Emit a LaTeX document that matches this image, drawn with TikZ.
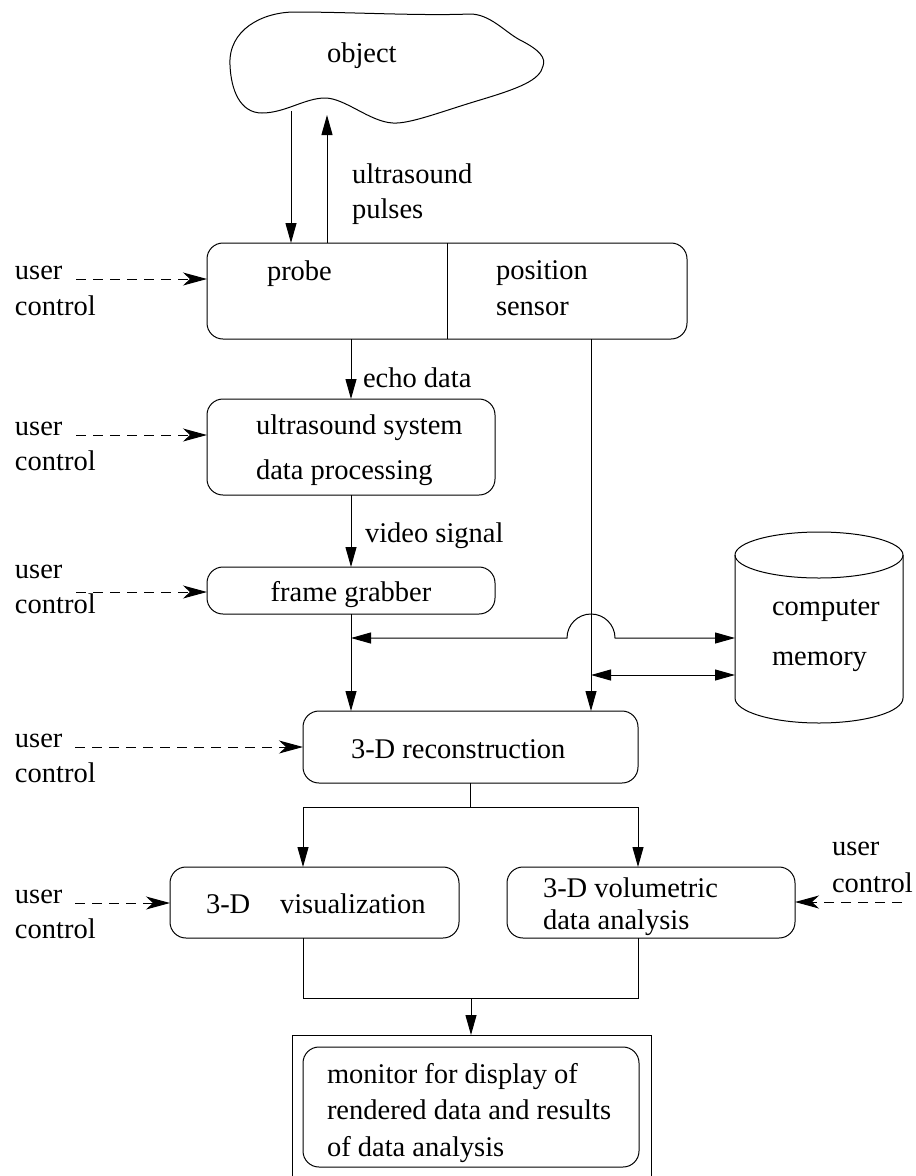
\documentclass[tikz,border=0pt]{standalone}
\usepackage{fontspec}
\setmainfont{Liberation Serif}
\usetikzlibrary{arrows.meta,calc}
\begin{document}
\begin{tikzpicture}[x=1pt,y=-1pt, line width=1pt,
  font=\fontsize{28.5}{34}\selectfont,
  lbl/.style={inner sep=0pt, outer sep=0pt, anchor=base west},
  rbox/.style={draw, rounded corners=16pt, inner sep=0pt, outer sep=0pt},
  arr/.style={-{Triangle[length=20pt,width=11pt]}},
  dblarr/.style={{Triangle[length=20pt,width=11pt]}-{Triangle[length=20pt,width=11pt]}},
  darr/.style={dash pattern=on 10pt off 7pt, -{Stealth[length=24pt,width=13pt,inset=7pt]}}]
\useasboundingbox (0,0) rectangle (916,1176);

% object blob
\draw (230,65) .. controls (228,30) and (262,12) .. (295,12)
  .. controls (350,12) and (420,16) .. (470,14)
  .. controls (490,14) and (505,32) .. (520,40)
  .. controls (540,50) and (546,58) .. (543,66)
  .. controls (540,80) and (520,88) .. (480,100)
  .. controls (440,112) and (410,124) .. (393,123)
  .. controls (370,122) and (345,98) .. (325,98)
  .. controls (305,98) and (285,113) .. (262,113)
  .. controls (240,113) and (231,90) .. (230,65) -- cycle;
\node[lbl] (objtxt) at (327,62) {object};
\node[lbl] (pulse1) at (352,183) {ultrasound};
\node[lbl] (pulse2) at (352,218) {pulses};

% probe / position sensor
\node[rbox, minimum width=480pt, minimum height=96pt] (probe) at (447,291) {};
\draw (probe.north) -- (probe.south);
\node[lbl] (probetxt) at (267,280) {probe};
\node[lbl] (postxt1) at (496,279) {position};
\node[lbl] (postxt2) at (496,315) {sensor};

% ultrasound system
\node[rbox, minimum width=288pt, minimum height=96pt] (us) at (351,447) {};
\node[lbl] (ustxt1) at (256,434) {ultrasound system};
\node[lbl] (ustxt2) at (256,479) {data processing};

% frame grabber
\node[rbox, minimum width=288pt, minimum height=47pt] (fg) at (351,590.5) {};
\node[inner sep=0pt, anchor=base] (fgtxt) at (351,601) {frame grabber};

% computer memory
\node[inner sep=0pt, outer sep=0pt, minimum width=168pt, minimum height=191pt] (mem) at (819,627.5) {};
\draw (735,555) -- (735,698) arc[start angle=180, end angle=360, x radius=84pt, y radius=25pt] -- (903,555);
\draw (819,555) ellipse [x radius=84pt, y radius=23pt];
\node[lbl] (memtxt1) at (772,615) {computer};
\node[lbl] (memtxt2) at (772,665) {memory};

% reconstruction
\node[rbox, minimum width=335pt, minimum height=72pt] (rec) at (470.5,747) {};
\node[lbl] (rectxt) at (351,758) {3-D reconstruction};

% visualization / volumetric
\node[rbox, minimum width=289pt, minimum height=71pt] (vis) at (314.5,902.5) {};
\node[lbl] (vistxt1) at (206,913) {3-D};
\node[lbl] (vistxt2) at (280,913) {visualization};
\node[rbox, minimum width=288pt, minimum height=71pt] (vol) at (651,902.5) {};
\node[lbl] (voltxt1) at (543,897) {3-D volumetric};
\node[lbl] (voltxt2) at (543,929) {data analysis};

% monitor
\node[draw, inner sep=0pt, outer sep=0pt, minimum width=359pt, minimum height=160pt] (monout) at (471.5,1115) {};
\node[rbox, minimum width=336pt, minimum height=120pt] (mon) at (471,1107) {};
\node[lbl] (montxt1) at (327,1083) {monitor for display of};
\node[lbl] (montxt2) at (327,1119) {rendered data and results};
\node[lbl] (montxt3) at (327,1156) {of data analysis};

% connectors
\coordinate (objL) at (291,111);
\coordinate (objR) at (327,115);
\draw[arr] (objL) -- (objL |- probe.north);
\draw[arr] (objR |- probe.north) -- (objR);
\draw[arr] (probe.south -| us.north) -- (us.north);
\node[lbl] (echo) at (363,387) {echo data};
\draw[arr] (us.south) -- (fg.north);
\node[lbl] (video) at (365,542) {video signal};
\draw[arr] (fg.south) -- (fg.south |- rec.north);
\coordinate (ps) at (591,339);
\draw[arr] (ps) -- (ps |- rec.north);
\coordinate (hopL) at (567,638);
\draw[dblarr] (fg.south |- hopL) -- (hopL) arc[start angle=180, end angle=0, radius=24pt] -- (mem.west |- hopL);
\coordinate (m2) at (591,675);
\draw[dblarr] (m2) -- (mem.west |- m2);

\coordinate (split) at (470.5,807);
\draw[arr] (rec.south) -- (split) -| (vis.north -| rec.west);
\draw[arr] (split) -| (vol.north -| rec.east);
\coordinate (merge) at (471,998);
\draw (vis.south -| rec.west) |- (merge);
\draw (vol.south -| rec.east) |- (merge);
\draw[arr] (merge) -- (merge |- monout.north);

% user controls
\node[lbl] (u1a) at (15,279) {user};
\node[lbl] (u1b) at (15,315) {control};
\coordinate (d1) at (76,279);
\draw[darr] (d1) -- (d1 -| probe.west);

\node[lbl] (u2a) at (15,435) {user};
\node[lbl] (u2b) at (15,470) {control};
\coordinate (d2) at (76,435);
\draw[darr] (d2) -- (d2 -| us.west);

\node[lbl] (u3a) at (15,578) {user};
\node[lbl] (u3b) at (15,613) {control};
\coordinate (d3) at (76,592);
\draw[darr] (d3) -- (d3 -| fg.west);

\node[lbl] (u4a) at (15,747) {user};
\node[lbl] (u4b) at (15,782) {control};
\coordinate (d4) at (75,747);
\draw[darr] (d4) -- (d4 -| rec.west);

\node[lbl] (u5a) at (15,903) {user};
\node[lbl] (u5b) at (15,938) {control};
\coordinate (d5) at (75,903);
\draw[darr] (d5) -- (d5 -| vis.west);

\node[lbl] (u6a) at (832,855) {user};
\node[lbl] (u6b) at (832,892) {control};
\coordinate (d6) at (902,902);
\draw[darr] (d6) -- (d6 -| vol.east);
\end{tikzpicture}
\end{document}
